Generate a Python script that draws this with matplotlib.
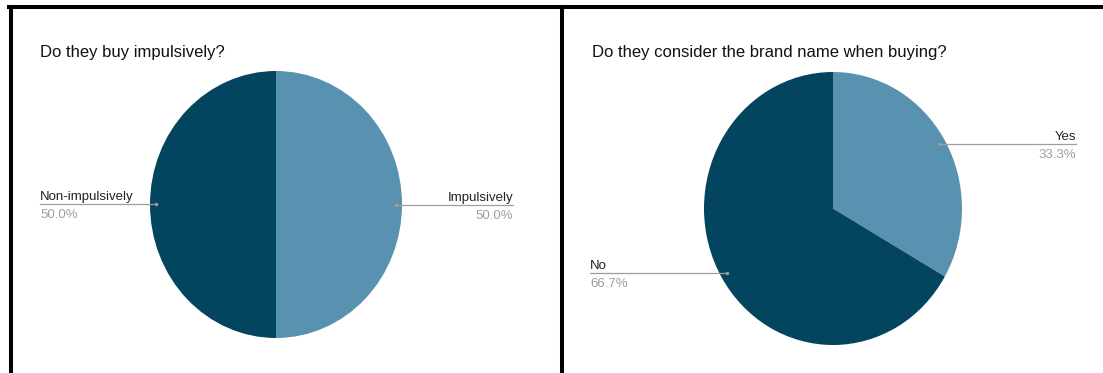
import numpy as np
import matplotlib.pyplot as plt
from matplotlib.lines import Line2D

plt.rcParams['font.family'] = ['Liberation Sans', 'DejaVu Sans']

# data
titles = ['Do they buy impulsively?', 'Do they consider the brand name when buying?']
labels_1 = ['Impulsively', 'Non-impulsively']
values_1 = [50.0, 50.0]
labels_2 = ['Yes', 'No']
values_2 = [33.3, 66.7]

light = '#5991b0'
dark = '#03445f'
grey = '#9e9e9e'

W, H = 1103, 373
fig = plt.figure(figsize=(W / 100, H / 100), dpi=100)


def fx(x):
    return x / W


def fy(y):
    return 1 - y / H


def pie_axes(x0, x1, y0, y1):
    ax = fig.add_axes([fx(x0), fy(y1), fx(x1) - fx(x0), fy(y0) - fy(y1)])
    return ax


def draw_pie(ax, values, labels, label_x):
    wedges, _ = ax.pie(values, colors=[light, dark], startangle=90,
                       counterclock=False, radius=1,
                       wedgeprops=dict(linewidth=0))
    ax.set_aspect('auto')
    ax.set_xlim(-1, 1)
    ax.set_ylim(-1, 1)
    tr = fig.transFigure.inverted()
    for w, lab, v, lx in zip(wedges, labels, values, label_x):
        ang = np.deg2rad((w.theta1 + w.theta2) / 2)
        dx, dy = 0.95 * np.cos(ang), 0.95 * np.sin(ang)
        px, py = tr.transform(ax.transData.transform((dx, dy)))
        tx = fx(lx)
        fig.add_artist(Line2D([px, tx], [py, py], color=grey, lw=0.9))
        fig.add_artist(Line2D([px], [py], marker='o', ms=2.5, color=grey,
                              mec='none'))
        ha = 'left' if tx < px else 'right'
        fig.text(tx, py + 4 / H, lab, ha=ha, va='baseline', fontsize=9.5,
                 color='#222222')
        fig.text(tx, py - 5 / H, '%.1f%%' % v, ha=ha, va='top', fontsize=9.5,
                 color=grey)


ax1 = pie_axes(150, 402, 71, 338)
draw_pie(ax1, values_1, labels_1, [513, 40])
ax2 = pie_axes(704, 962, 72, 345)
draw_pie(ax2, values_2, labels_2, [1076, 590])

# titles
fig.text(fx(40), fy(57), titles[0], fontsize=12, color='#111111', va='baseline')
fig.text(fx(592), fy(57), titles[1], fontsize=12, color='#111111', va='baseline')

# panel borders
fig.add_artist(Line2D([fx(9), 1], [fy(7), fy(7)], color='black', lw=2.9))
fig.add_artist(Line2D([fx(11), fx(11)], [fy(7), 0], color='black', lw=2.9))
fig.add_artist(Line2D([fx(562), fx(562)], [fy(7), 0], color='black', lw=2.9))

fig.savefig('out.png', dpi=100, facecolor='white')
